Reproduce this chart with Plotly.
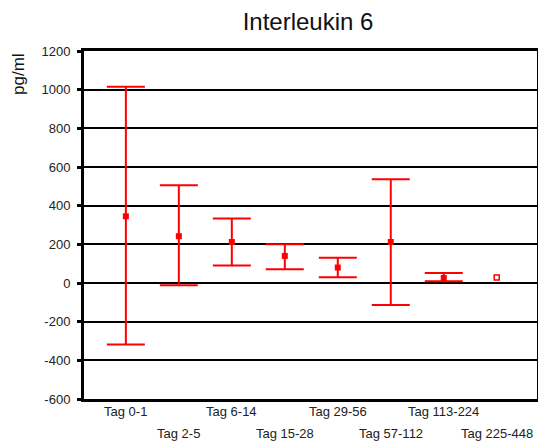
import plotly.graph_objects as go

categories = ["Tag 0-1", "Tag 2-5", "Tag 6-14", "Tag 15-28", "Tag 29-56",
              "Tag 57-112", "Tag 113-224", "Tag 225-448"]
means = [345, 242, 212, 140, 80, 212, 26, 28]
upper = [1015, 506, 334, 200, 131, 537, 52, None]
lower = [-318, -12, 90, 71, 30, -114, 9, None]
y_tickvals = [-600, -400, -200, 0, 200, 400, 600, 800, 1000, 1200]
y_ticktext = ["-600", "-400", "-200", "0", "200", "400", "600", "800", "1000", "1200"]

x_idx = list(range(len(categories)))
err_plus = [(u - m) if u is not None else 0 for u, m in zip(upper, means)]
err_minus = [(m - l) if l is not None else 0 for l, m in zip(lower, means)]

red = "#ff0000"
fig = go.Figure()
fig.add_trace(go.Scatter(
    x=x_idx[:-1], y=means[:-1], mode="markers",
    marker=dict(symbol="square", size=6, color=red),
    error_y=dict(type="data", symmetric=False, array=err_plus[:-1],
                 arrayminus=err_minus[:-1], color=red, thickness=2, width=19),
    showlegend=False,
))
fig.add_trace(go.Scatter(
    x=x_idx[-1:], y=means[-1:], mode="markers",
    marker=dict(symbol="square-open", size=5, color=red, line=dict(width=1.5)),
    showlegend=False,
))

plot_h = 443 - 51 - 44
label_anns = []
for i, c in enumerate(categories):
    row_y = 411 if i % 2 == 0 else 433
    label_anns.append(dict(text=c, x=i, xref="x", yref="paper",
                           y=-(row_y - 399) / plot_h, xanchor="center",
                           yanchor="middle", showarrow=False,
                           font=dict(size=13, color="#222")))

fig.update_layout(
    width=538, height=443,
    margin=dict(l=84, r=1, t=51, b=44, autoexpand=False),
    paper_bgcolor="white", plot_bgcolor="white",
    font=dict(family="Liberation Sans, Arial, sans-serif", size=13, color="#222"),
    title=dict(text="Interleukin 6", x=308/538, xanchor="center",
               y=1 - 22/443, yanchor="middle",
               font=dict(size=24, color="#111")),
    xaxis=dict(range=[-0.79, 7.76], tickmode="array", tickvals=x_idx,
               showticklabels=False, showgrid=False, zeroline=False,
               showline=True, linecolor="black", linewidth=3, mirror=True,
               ticks="", automargin=False),
    yaxis=dict(range=[-600, 1200], tickmode="array", tickvals=y_tickvals,
               ticktext=y_ticktext,
               showgrid=True, gridcolor="black", gridwidth=2,
               zeroline=False, showline=True, linecolor="black", linewidth=3,
               mirror=True, ticks="outside", ticklen=4, tickwidth=3,
               tickcolor="black", tickfont=dict(size=13),
               ticklabelstandoff=4, automargin=False),
    annotations=[dict(text="pg/ml", textangle=-90, xref="paper", yref="paper",
                      x=-(84 - 18) / 453, y=1 - (74 - 51) / plot_h,
                      xanchor="center", yanchor="middle", showarrow=False,
                      font=dict(size=17, color="#111"))] + label_anns,
)

fig.write_html("out.html")
